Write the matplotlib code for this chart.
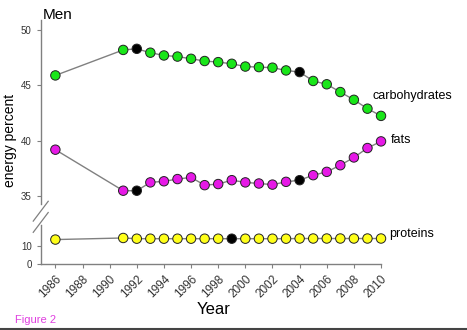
import matplotlib.pyplot as plt
import numpy as np

plt.rcParams["font.family"] = ["Liberation Sans", "DejaVu Sans"]

# survey years and energy shares (percent)
years = [1986, 1991, 1992, 1993, 1994, 1995, 1996, 1997, 1998, 1999, 2000,
         2001, 2002, 2003, 2004, 2005, 2006, 2007, 2008, 2009, 2010]
carbohydrates = [45.9, 48.2, 48.3, 47.95, 47.7, 47.6, 47.4, 47.2, 47.1, 46.95, 46.7,
                 46.65, 46.6, 46.35, 46.2, 45.4, 45.1, 44.4, 43.7, 42.9, 42.25]
fats = [39.2, 35.5, 35.5, 36.25, 36.35, 36.55, 36.7, 36.0, 36.1, 36.45, 36.25,
        36.15, 36.05, 36.3, 36.45, 36.9, 37.2, 37.8, 38.5, 39.35, 39.95]
proteins = [13.8, 14.7, 14.3, 14.3, 14.3, 14.3, 14.3, 14.3, 14.3, 14.3, 14.3,
            14.3, 14.3, 14.3, 14.4, 14.4, 14.4, 14.4, 14.4, 14.4, 14.4]

# years highlighted with black markers per series
carb_marked = [1992, 2004]
fat_marked = [1992, 2004]
prot_marked = [1999]

xticks = list(range(1986, 2011, 2))

GREEN = "#19e619"
MAGENTA = "#e619e6"
YELLOW = "#ffff19"
LINE = "#808080"
TICK = "#333333"


def draw_series(ax, ys, color, marked):
    ax.plot(years, ys, color=LINE, lw=1.0, zorder=1, clip_on=False)
    cols = ["black" if y in marked else color for y in years]
    ax.scatter(years, ys, s=46, c=cols, edgecolors="#222222", linewidths=0.7,
               zorder=3, clip_on=False)


fig = plt.figure(figsize=(4.67, 3.3), dpi=100)
ax_top = fig.add_axes([0.0872, 0.3818, 0.7287, 0.5576])
ax_bot = fig.add_axes([0.0872, 0.2, 0.7287, 0.118])

draw_series(ax_top, carbohydrates, GREEN, carb_marked)
draw_series(ax_top, fats, MAGENTA, fat_marked)
draw_series(ax_bot, proteins, YELLOW, prot_marked)

xlim = (1984.92, 2010)
for ax in (ax_top, ax_bot):
    ax.set_xlim(*xlim)
    for s in ("top", "right"):
        ax.spines[s].set_visible(False)
    for s in ("left", "bottom"):
        ax.spines[s].set_color(LINE)
        ax.spines[s].set_linewidth(1.0)
    ax.tick_params(colors=LINE, labelcolor=TICK, labelsize=7, length=3, width=0.8)

ax_top.set_ylim(34.3, 50.9)
ax_top.set_yticks([35, 40, 45, 50])
ax_top.spines["bottom"].set_visible(False)
ax_top.tick_params(axis="x", bottom=False, labelbottom=False)

ax_bot.set_ylim(0, 22)
ax_bot.set_yticks([0, 10])
ax_bot.set_xticks(xticks)
ax_bot.set_xticklabels([str(x) for x in xticks], rotation=45, ha="right",
                       rotation_mode="anchor", fontsize=8.5)

# break marks on the y axis
x0 = 0.0872
for yb in (0.36, 0.326):
    fig.add_artist(plt.Line2D([x0 - 0.016, x0 + 0.016], [yb - 0.03, yb + 0.03],
                              color=LINE, lw=0.9))

ax_top.text(2009.4, 44.0, "carbohydrates", fontsize=9, va="center", ha="left",
            clip_on=False)
ax_top.text(2010.75, 40.1, "fats", fontsize=9, va="center", ha="left", clip_on=False)
ax_bot.text(2010.6, 17.0, "proteins", fontsize=9, va="center", ha="left",
            clip_on=False)

fig.text(0.092, 0.955, "Men", fontsize=11, ha="left", va="center")
fig.text(0.022, 0.575, "energy percent", fontsize=10, rotation=90, ha="center",
         va="center")
fig.text(0.458, 0.062, "Year", fontsize=12, ha="center", va="center")
fig.text(0.032, 0.03, "Figure 2", fontsize=8, color="#e040e0", ha="left", va="center")

fig.add_artist(plt.Line2D([0, 1], [0.004, 0.004], color="#444444", lw=1.5))

fig.savefig("out.png", dpi=100)
